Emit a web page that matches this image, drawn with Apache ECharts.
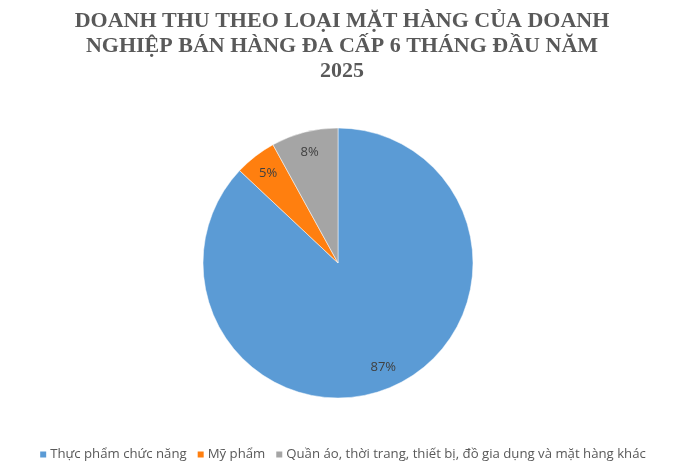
<!DOCTYPE html>
<html>
<head>
<meta charset="utf-8">
<script src="https://cdn.jsdelivr.net/npm/echarts@6/dist/echarts.min.js"></script>
<style>html,body{margin:0;padding:0;background:#fff;}#c{width:684px;height:462px;}</style>
</head>
<body>
<div id="c"></div>
<script>
const categories = ['Thực phẩm chức năng', 'Mỹ phẩm', 'Quần áo, thời trang, thiết bị, đồ gia dụng và mặt hàng khác'];
const shares = [87, 5, 8];
const colors = ['#5b9bd5', '#ff7f0f', '#a5a5a5'];
const titleText = 'DOANH THU THEO LOẠI MẶT HÀNG CỦA DOANH\nNGHIỆP BÁN HÀNG ĐA CẤP 6 THÁNG ĐẦU NĂM\n2025';

const chart = echarts.init(document.getElementById('c'));
const data = categories.map((n, i) => ({ name: n, value: shares[i], itemStyle: { color: colors[i] } }));
chart.setOption({
  animation: false,
  title: {
    text: titleText,
    left: 'center',
    top: 4,
    textStyle: { fontFamily: 'Liberation Serif', fontWeight: 'bold', fontSize: 22, color: '#595959', lineHeight: 25 }
  },
  legend: {
    top: 443,
    left: 'center',
    itemWidth: 8,
    itemHeight: 8,
    itemGap: 9,
    icon: 'rect',
    data: categories.map((n, i) => ({ name: n, itemStyle: { color: colors[i] } })),
    textStyle: { fontFamily: 'Open Sans', fontSize: 13.2, color: '#595959', padding: [0, 0, 0, -2] }
  },
  series: [
    {
      type: 'pie',
      center: [338, 263],
      radius: [0, 135],
      startAngle: 90,
      clockwise: true,
      label: { show: false },
      labelLine: { show: false },
      itemStyle: { borderColor: '#fff', borderWidth: 0.5 },
      emphasis: { disabled: true },
      data: data
    },
    {
      type: 'pie',
      center: [338, 263],
      radius: [87, 135],
      startAngle: 90,
      clockwise: true,
      silent: true,
      itemStyle: { color: 'rgba(0,0,0,0)' },
      label: { show: true, position: 'inside', formatter: '{c}%', fontFamily: 'Open Sans', fontSize: 13, color: '#404040' },
      labelLine: { show: false },
      data: categories.map((n, i) => ({ name: n, value: shares[i], itemStyle: { color: 'rgba(0,0,0,0)' } }))
    }
  ]
});
</script>
</body>
</html>
